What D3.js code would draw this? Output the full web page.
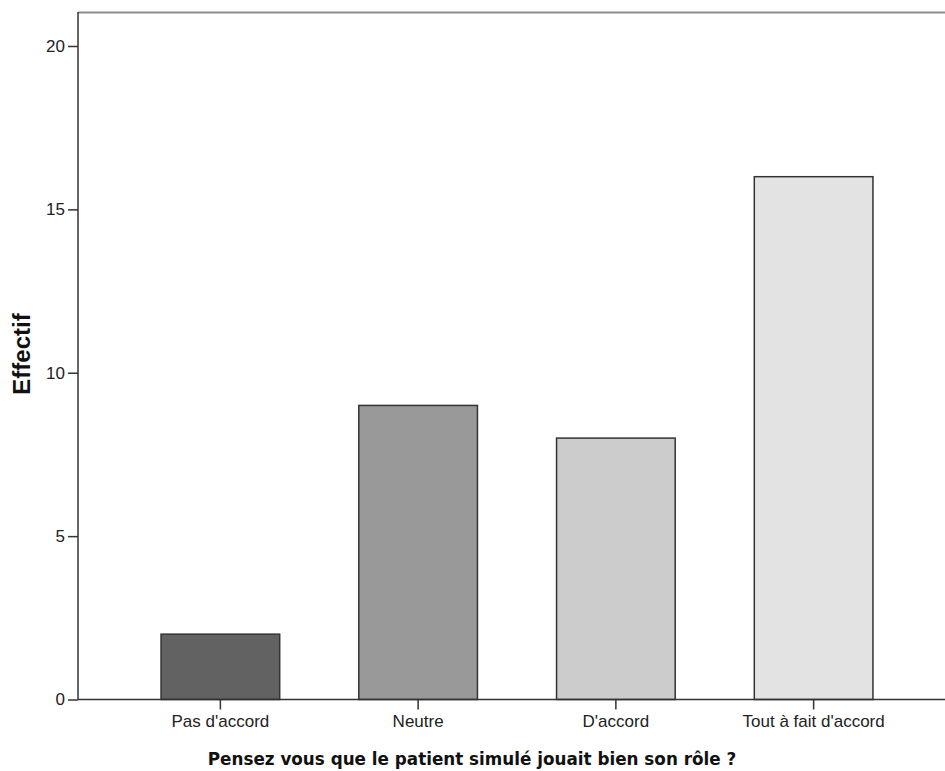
<!DOCTYPE html>
<html><head><meta charset="utf-8">
<script src="https://cdn.jsdelivr.net/npm/d3@7"></script>
<style>body{margin:0;background:#fff}</style>
</head><body>
<svg id="c" width="945" height="771"></svg>
<script>
const categories = ["Pas d'accord", "Neutre", "D'accord", "Tout à fait d'accord"];
const values = [2, 9, 8, 16];
const colors = ["#626262", "#999999", "#cccccc", "#e3e3e3"];
const yTicks = [0, 5, 10, 15, 20];
const xTitle = "Pensez vous que le patient simulé jouait bien son rôle ?";
const yTitle = "Effectif";

(function () {
const svg = d3.select("#c");
const mLeft = 78, mTop = 12, mBottom = 699.5;
const y = d3.scaleLinear().domain([0, 20]).range([mBottom, 46]);
const x = d3.scaleBand().domain(categories).range([mLeft, 956]).paddingInner(0.4).paddingOuter(0.42);

svg.append("line").attr("x1", mLeft).attr("x2", 945).attr("y1", mTop + 0.5).attr("y2", mTop + 0.5)
  .attr("stroke", "#8c8c8c").attr("stroke-width", 2);

svg.selectAll("rect.bar").data(values).enter().append("rect")
  .attr("class", "bar")
  .attr("x", (d, i) => x(categories[i]))
  .attr("y", d => y(d))
  .attr("width", x.bandwidth())
  .attr("height", d => y(0) - y(d))
  .attr("fill", (d, i) => colors[i])
  .attr("stroke", "#333").attr("stroke-width", 1.5);

const ya = svg.append("g").attr("transform", `translate(${mLeft},0)`)
  .call(d3.axisLeft(y).tickValues(yTicks).tickSize(10).tickPadding(3).tickFormat(d3.format("d")));
ya.select(".domain").attr("d", `M0,${mTop}V${mBottom}`).attr("stroke", "#333").attr("stroke-width", 1.5);
ya.selectAll(".tick line").attr("stroke", "#333").attr("stroke-width", 1.5);
ya.selectAll("text").attr("font-family", "Liberation Sans, Arial, sans-serif").attr("font-size", 17).attr("fill", "#222");

const xa = svg.append("g").attr("transform", `translate(0,${mBottom})`)
  .call(d3.axisBottom(x).tickSize(10).tickPadding(5));
xa.select(".domain").attr("d", `M${mLeft},0H945`).attr("stroke", "#333").attr("stroke-width", 1.5);
xa.selectAll(".tick line").attr("stroke", "#333").attr("stroke-width", 1.5);
xa.selectAll("text").attr("font-family", "Liberation Sans, Arial, sans-serif").attr("font-size", 17).attr("fill", "#222");

svg.append("text").attr("x", 472).attr("y", 765).attr("text-anchor", "middle")
  .attr("font-family", "DejaVu Sans, sans-serif").attr("font-weight", "bold").attr("font-size", 16.8)
  .attr("fill", "#111").text(xTitle);

svg.append("text").attr("transform", "translate(30,354) rotate(-90)").attr("text-anchor", "middle")
  .attr("font-family", "Liberation Sans, Arial, sans-serif").attr("font-weight", "bold").attr("font-size", 24)
  .attr("fill", "#111").text(yTitle);
})();
</script>
</body></html>
